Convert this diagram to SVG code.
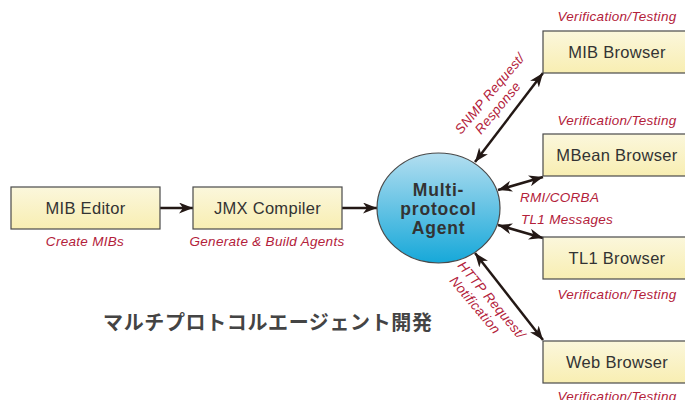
<svg xmlns="http://www.w3.org/2000/svg" width="685" height="400" viewBox="0 0 685 400">
<defs>
<linearGradient id="boxg" x1="0" y1="0" x2="0" y2="1">
<stop offset="0" stop-color="#fbf7dc"/>
<stop offset="1" stop-color="#f8eeb2"/>
</linearGradient>
<linearGradient id="ellg" x1="0" y1="0" x2="0" y2="1">
<stop offset="0" stop-color="#b3def0"/>
<stop offset="1" stop-color="#16a8d9"/>
</linearGradient>
<marker id="ah" viewBox="0 0 14 11" refX="14" refY="5.5" markerWidth="14" markerHeight="11" markerUnits="userSpaceOnUse" orient="auto-start-reverse">
<path d="M0,0 L14,5.5 L0,11 L4,5.5 z" fill="#231815"/>
</marker>
<style>
.box{fill:url(#boxg);stroke:#4a4a4a;stroke-width:1.2}
.bt{font-family:"Liberation Sans",Arial,sans-serif;font-size:16.5px;letter-spacing:0.3px;fill:#333;text-anchor:middle}
.lab{font-family:"Liberation Sans",Arial,sans-serif;font-size:13.5px;letter-spacing:0.3px;font-style:italic;fill:#b3213a}
.mid{text-anchor:middle}
.con{stroke:#231815;stroke-width:2.5;fill:none}
.one{marker-end:url(#ah)}
.two{marker-start:url(#ah);marker-end:url(#ah)}
.at{font-family:"Liberation Sans",Arial,sans-serif;font-size:17.5px;letter-spacing:0.8px;font-weight:bold;fill:#333;text-anchor:middle}
.jp{font-family:"Noto Sans CJK JP","Noto Sans CJK SC",sans-serif;font-size:20px;font-weight:bold;fill:#444}
</style>
</defs>
<g id="connectors">
<line class="con one" x1="160" y1="208" x2="193" y2="208"/>
<line class="con one" x1="342" y1="208" x2="377" y2="208"/>
<line class="con two" x1="475" y1="162" x2="543" y2="73"/>
<line class="con two" x1="498" y1="190" x2="543" y2="177"/>
<line class="con two" x1="498" y1="225" x2="543" y2="238"/>
<line class="con two" x1="475" y1="253" x2="543" y2="340"/>
</g>
<g id="connector-labels">
<text class="lab" transform="translate(461,135) rotate(-50)">SNMP Request/</text>
<text class="lab" transform="translate(481,135) rotate(-50)">Response</text>
<text class="lab" x="520" y="202">RMI/CORBA</text>
<text class="lab" x="521" y="224">TL1 Messages</text>
<text class="lab" transform="translate(457,266) rotate(50)">HTTP Request/</text>
<text class="lab" transform="translate(449,281) rotate(50)">Notification</text>
</g>
<g id="mib-editor">
<rect class="box" x="11" y="187" width="149" height="42"/>
<text class="bt" x="85.5" y="214">MIB Editor</text>
<text class="lab mid" x="85" y="246">Create MIBs</text>
</g>
<g id="jmx-compiler">
<rect class="box" x="193" y="187" width="149" height="42"/>
<text class="bt" x="267.5" y="214">JMX Compiler</text>
<text class="lab mid" x="267" y="246">Generate &amp; Build Agents</text>
</g>
<g id="agent">
<ellipse cx="438.5" cy="208" rx="61.5" ry="55" fill="url(#ellg)" stroke="#4a4a4a" stroke-width="1.2"/>
<text class="at" x="438.5" y="195.5">Multi-</text>
<text class="at" x="438.5" y="214.5">protocol</text>
<text class="at" x="438.5" y="233.5">Agent</text>
</g>
<g id="mib-browser">
<rect class="box" x="543" y="31" width="150" height="42"/>
<text class="bt" x="617" y="58">MIB Browser</text>
<text class="lab mid" x="617" y="21">Verification/Testing</text>
</g>
<g id="mbean-browser">
<rect class="box" x="543" y="134" width="150" height="42"/>
<text class="bt" x="617" y="161">MBean Browser</text>
<text class="lab mid" x="617" y="125">Verification/Testing</text>
</g>
<g id="tl1-browser">
<rect class="box" x="543" y="237" width="150" height="42"/>
<text class="bt" x="617" y="264">TL1 Browser</text>
<text class="lab mid" x="617" y="299">Verification/Testing</text>
</g>
<g id="web-browser">
<rect class="box" x="543" y="341" width="150" height="42"/>
<text class="bt" x="617" y="368">Web Browser</text>
<text class="lab mid" x="617" y="401">Verification/Testing</text>
</g>
<text class="jp" x="103" y="330" textLength="329">マルチプロトコルエージェント開発</text>
</svg>
